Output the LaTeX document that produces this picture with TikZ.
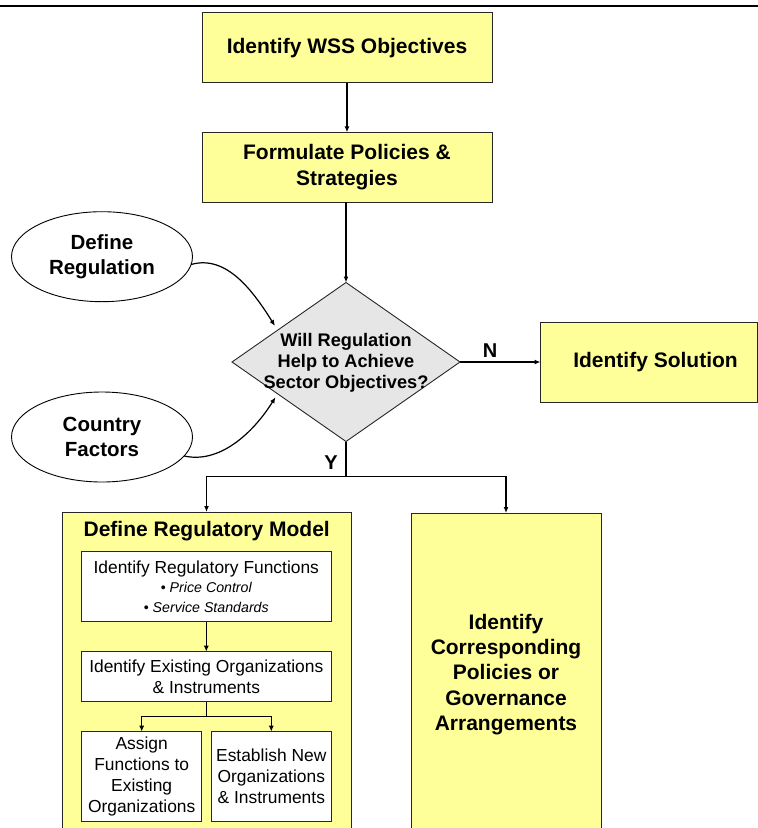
\documentclass[tikz,border=0pt]{standalone}
\usepackage{fontspec}
\setmainfont{Liberation Sans}
\usetikzlibrary{shapes.geometric,arrows.meta,calc}
\definecolor{boxyellow}{HTML}{FFFF99}
\definecolor{qgray}{HTML}{E6E6E6}
\begin{document}
\begin{tikzpicture}[x=1pt,y=-1pt,
  every node/.style={inner sep=0pt, outer sep=0pt},
  ybox/.style={draw=black!85, line width=0.9pt, fill=boxyellow, rectangle, align=center,
    font=\fontsize{21}{25.4}\selectfont\bfseries},
  wbox/.style={draw=black!85, line width=0.9pt, fill=white, rectangle, align=center,
    font=\fontsize{17.4}{21}\selectfont},
  oval/.style={draw=black, line width=0.9pt, fill=white, ellipse, minimum width=181pt,
    minimum height=90pt, align=center, font=\fontsize{20.5}{25}\selectfont\bfseries},
  flow/.style={line width=1.2pt, -{Latex[length=6pt,width=5pt]}},
  wire/.style={line width=1.2pt},
  lbl/.style={font=\fontsize{20}{20}\selectfont\bfseries}
]
\useasboundingbox (0,0) rectangle (758,828);
\clip (0,0) rectangle (758,828);

% heading rule
\draw[line width=2.2pt] (0,6) -- (758,6);

% main column
\node[ybox, minimum width=290pt, minimum height=70pt] (obj) at (347,47.8) {Identify WSS Objectives};
\node[ybox, minimum width=290pt, minimum height=70pt] (pol) at (347,167.3) {Formulate Policies \&\\Strategies};

\node[diamond, draw=black!85, line width=0.9pt, fill=qgray, minimum width=228pt, minimum height=159pt] (q) at (346,362) {};
\node[align=center, font=\fontsize{18.2}{20.8}\selectfont\bfseries] (qt) at (346,362.5)
  {Will Regulation\\Help to Achieve\\Sector Objectives?};

\node[ybox, minimum width=217pt, minimum height=80pt] (sol) at (649,362) {\hspace*{13pt}Identify Solution};

% inputs
\node[oval] (e1) at (102,256.7) {Define\\Regulation};
\node[oval] (e2) at (102,437) {Country\\Factors};

% the two outcome columns
\node[ybox, minimum width=289pt, minimum height=323pt] (model) at (206.5,673.5) {};
\node[font=\fontsize{21}{25}\selectfont\bfseries] (mtitle) at (206.7,530.7) {Define Regulatory Model};
\node[ybox, minimum width=190pt, minimum height=323pt] (gov) at (506,674.5)
  {Identify\\Corresponding\\Policies or\\Governance\\Arrangements};

\node[wbox, minimum width=249.3pt, minimum height=70pt] (fun) at (206.3,586.7)
  {Identify Regulatory Functions\\[-1.5pt]
   {\fontsize{14.2}{20}\selectfont\textbullet\ \itshape Price Control}\\[-1.5pt]
   {\fontsize{14.2}{20}\selectfont\textbullet\ \itshape Service Standards}};
\node[wbox, minimum width=249.3pt, minimum height=50pt] (org) at (206.3,676.7)
  {Identify Existing Organizations\\\& Instruments};
\node[wbox, minimum width=120pt, minimum height=90pt] (assign) at (141.7,776.7)
  {Assign\\Functions to\\Existing\\Organizations};
\node[wbox, minimum width=119.3pt, minimum height=90pt] (estab) at (271.3,776.7)
  {Establish New\\Organizations\\\& Instruments};

% connectors
\draw[flow] (obj) -- (pol);
\draw[flow] (pol.south -| q.north) -- (q.north);
\draw[flow] (q.east) -- (sol.west);
\node[lbl] (nlab) at (490,351) {N};

\coordinate (split) at (346,476.7);
\draw[wire] (q.south) -- (split);
\draw[flow] (split) -| (model.north);
\draw[flow] (split) -| (gov.north);
\node[lbl] (ylab) at (331,463) {Y};

\draw[flow] (fun) -- (org);
\coordinate (fork) at (206.3,716.7);
\draw[wire] (org.south) -- (fork);
\draw[flow] (fork) -| (assign.north);
\draw[flow] (fork) -| (estab.north);

\coordinate (qin1) at ($(q.west)!0.4!(q.north)$);
\coordinate (qin2) at ($(q.west)!0.4!(q.south)$);
\draw[flow, shorten >=5pt] (e1.-5) .. controls +(35,-10) and +(-25,-40) .. (qin1);
\draw[flow, shorten >=4pt] (e2.-13) .. controls +(35,8) and +(-25,40) .. (qin2);
\end{tikzpicture}
\end{document}
